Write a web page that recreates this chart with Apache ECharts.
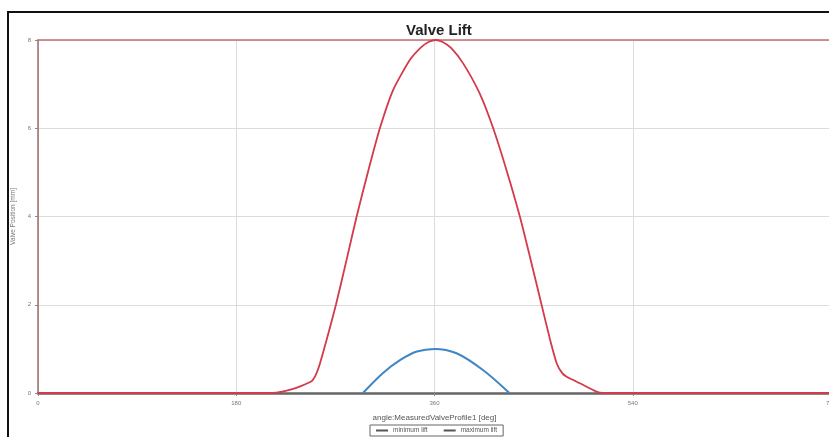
<!DOCTYPE html>
<html>
<head>
<meta charset="utf-8">
<script src="https://cdn.jsdelivr.net/npm/echarts@6/dist/echarts.min.js"></script>
<style>
  html, body { margin: 0; padding: 0; background: #fff; }
  #wrap { position: relative; width: 829px; height: 437px; overflow: hidden; }
  #chart { position: absolute; left: 0; top: 0; width: 829px; height: 437px; }
  #frame { position: absolute; left: 7px; top: 11px; width: 840px; height: 440px;
           border-top: 2px solid #111; border-left: 2px solid #111; pointer-events: none; }
</style>
</head>
<body>
<div id="wrap"><div id="chart"></div><div id="frame"></div></div>
<script>
const titleText = 'Valve Lift';
const xAxisName = 'angle:MeasuredValveProfile1 [deg]';
const yAxisName = 'Valve Position [mm]';
const seriesNames = ['minimum lift', 'maximum lift'];

// crank angle [deg] / lift [mm]
const minAngle = [295, 313, 329, 344, 360, 380, 404, 428];
const minLift  = [0, 0.45, 0.75, 0.94, 1.0, 0.9, 0.52, 0];

const maxAngle = [0, 213, 230, 248, 252, 256, 262, 270.5, 280, 289.3, 300, 310.4, 322.5, 337.7, 348, 355, 361,
                  367, 375, 386, 401, 413.3, 425.4, 437.5, 447, 457.2, 465, 471, 476, 480, 492, 507, 513, 720];
const maxLift  = [0, 0, 0.08, 0.26, 0.4, 0.67, 1.2, 2.0, 3.0, 4.0, 5.05, 6.0, 6.87, 7.55, 7.84, 7.96, 8.0,
                  7.96, 7.82, 7.47, 6.79, 6.0, 5.05, 4.0, 3.05, 2.0, 1.2, 0.67, 0.45, 0.37, 0.22, 0.03, 0, 0];

const xMin = 0, xMax = 720, xInterval = 180;
const yMin = 0, yMax = 8, yInterval = 2;

const pairs = (xs, ys) => xs.map((x, i) => [x, ys[i]]);
const font = 'Liberation Sans, Arial, sans-serif';

const chart = echarts.init(document.getElementById('chart'), null, { renderer: 'canvas' });
chart.setOption({
  animation: false,
  backgroundColor: '#fff',
  textStyle: { fontFamily: font },
  title: {
    text: titleText, left: 401, top: 18,
    textStyle: { fontFamily: font, fontSize: 15, fontWeight: 'bold', color: '#222' }
  },
  grid: {
    left: 38, right: -2, top: 40, bottom: 44,
    outerBoundsMode: 'none', containLabel: false
  },
  legend: {
    data: seriesNames, bottom: 1, left: 370,
    borderColor: '#666', borderWidth: 1, padding: [2, 6],
    itemWidth: 12, itemHeight: 2, itemGap: 16,
    textStyle: { fontSize: 6.5, color: '#555', fontFamily: font },
    icon: 'rect'
  },
  xAxis: [{
    type: 'value', min: xMin, max: xMax, interval: xInterval,
    name: xAxisName, nameLocation: 'middle', nameGap: 21,
    nameTextStyle: { fontSize: 8, color: '#555', fontFamily: font },
    axisLine: { show: true, lineStyle: { color: '#666', width: 2.5 } },
    axisTick: { show: true, length: 3, lineStyle: { color: '#888' } },
    axisLabel: { fontSize: 6, color: '#777', margin: 7, fontFamily: font },
    splitLine: { show: true, lineStyle: { color: '#dcdcdc', width: 1 } }
  }, {
    type: 'value', min: xMin, max: xMax, position: 'top',
    axisLine: { show: true, lineStyle: { color: '#c07070', width: 1.5 } },
    axisTick: { show: false }, axisLabel: { show: false }, splitLine: { show: false }
  }],
  yAxis: {
    type: 'value', min: yMin, max: yMax, interval: yInterval,
    name: yAxisName, nameLocation: 'middle', nameGap: 18, nameRotate: 90,
    nameTextStyle: { fontSize: 6.5, color: '#777', fontFamily: font },
    axisLine: { show: true, lineStyle: { color: '#a06a6a', width: 1.5 } },
    axisTick: { show: true, length: 3, lineStyle: { color: '#888' } },
    axisLabel: { fontSize: 6, color: '#777', margin: 7, fontFamily: font },
    splitLine: { show: true, lineStyle: { color: '#dcdcdc', width: 1 } }
  },
  series: [
    {
      name: seriesNames[0], type: 'line', data: pairs(minAngle, minLift),
      smooth: 0.3, showSymbol: false, symbol: 'none',
      lineStyle: { color: '#3f86c4', width: 2 }, itemStyle: { color: '#555' }
    },
    {
      name: seriesNames[1], type: 'line', data: pairs(maxAngle, maxLift),
      smooth: 0.2, showSymbol: false, symbol: 'none',
      lineStyle: { color: '#d33a4a', width: 1.8 }, itemStyle: { color: '#555' }
    }
  ]
});
</script>
</body>
</html>
